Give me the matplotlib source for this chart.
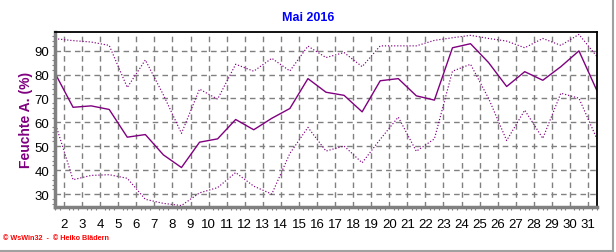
import matplotlib
matplotlib.use("Agg")
import matplotlib.pyplot as plt
from matplotlib.ticker import FixedLocator, MultipleLocator
from matplotlib.lines import Line2D

days = list(range(1, 32))
hum_max = [95.0, 94.2, 93.6, 92.2, 74.6, 86.1, 71.5, 55.4, 73.9, 69.7,
           84.3, 81.4, 86.8, 81.5, 91.9, 87.1, 89.2, 83.3, 92.0, 92.0,
           92.0, 94.3, 95.4, 96.4, 95.1, 94.0, 91.2, 95.1, 92.2, 96.8, 87.5]
hum_mean = [80.6, 66.3, 66.9, 65.4, 53.8, 54.9, 46.4, 41.1, 51.7, 53.1,
            61.2, 56.9, 61.7, 65.8, 78.3, 72.6, 71.3, 64.4, 77.4, 78.3,
            71.1, 69.3, 91.2, 92.9, 85.0, 75.0, 81.2, 77.6, 83.3, 89.9, 73.2]
hum_min = [60.0, 36.0, 37.8, 38.1, 36.6, 27.8, 26.1, 25.2, 30.5, 32.7,
           39.0, 33.3, 30.0, 47.0, 57.9, 48.0, 50.1, 43.1, 52.9, 62.2,
           47.9, 53.1, 81.4, 84.3, 70.0, 52.4, 65.1, 53.3, 72.2, 70.1, 53.0]
tick_labels = [str(d) for d in range(2, 32)]

title = "Mai 2016"
ylabel = "Feuchte A. (%)"
footer = "\u00a9 WsWin32  -  \u00a9 Heiko Bl\u00e4dern"

purple = "#800080"
W, H = 616, 253
fig = plt.figure(figsize=(W / 100, H / 100), dpi=100)
fig.patch.set_facecolor("white")
ax = fig.add_axes([55 / W, 1 - 207.5 / H, (597 - 55) / W, (207.5 - 33) / H])

ax.plot(days, hum_max, color=purple, lw=0.85, ls=(0, (1, 1.6)))
ax.plot(days, hum_mean, color=purple, lw=1.0, ls="-")
ax.plot(days, hum_min, color=purple, lw=0.85, ls=(0, (1, 1.6)))

ax.set_xlim(1, 31)
ax.set_ylim(24.8, 97.8)

xt = [d - 0.5 for d in range(2, 32)]
ax.xaxis.set_major_locator(FixedLocator(xt))
ax.set_xticklabels(tick_labels)
ax.xaxis.set_minor_locator(MultipleLocator(0.25))
ax.yaxis.set_major_locator(FixedLocator([30, 40, 50, 60, 70, 80, 90]))
ax.yaxis.set_minor_locator(MultipleLocator(2))

ax.grid(True, which="major", color="#808080", ls=(0, (4, 3)), lw=1.0)
ax.set_axisbelow(True)

font = "Liberation Sans"
ax.tick_params(axis="both", which="major", length=0, labelsize=9.5, pad=4)
ax.tick_params(axis="x", which="major", pad=8)
ax.tick_params(axis="both", which="minor", length=2.5, width=0.8, color="#808080")
for lab in ax.get_xticklabels() + ax.get_yticklabels():
    lab.set_fontfamily(font)

for s in ["top", "right"]:
    ax.spines[s].set_color("black")
    ax.spines[s].set_linewidth(1.3)
for s in ["left", "bottom"]:
    ax.spines[s].set_color("#808080")
    ax.spines[s].set_linewidth(2.5)

fig.text(308 / W, 1 - 18 / H, title, color="#0000FF", fontsize=9, fontweight="bold",
         ha="center", va="center", family=font)
fig.text(26 / W, 1 - 120 / H, ylabel, color=purple, fontsize=10, fontweight="bold",
         ha="center", va="center", rotation=90, family=font)
fig.text(3 / W, 1 - 239 / H, footer, color="#FF0000", fontsize=5.2, fontweight="bold",
         ha="left", va="center", family=font)

fig.add_artist(Line2D([0, 613 / W], [1 - 252 / H] * 2, color="#a0a0a0", lw=1.5,
                      transform=fig.transFigure))
fig.add_artist(Line2D([613 / W] * 2, [1 - 252 / H, 1], color="#a0a0a0", lw=1.5,
                      transform=fig.transFigure))

fig.savefig("out.png", dpi=100)
